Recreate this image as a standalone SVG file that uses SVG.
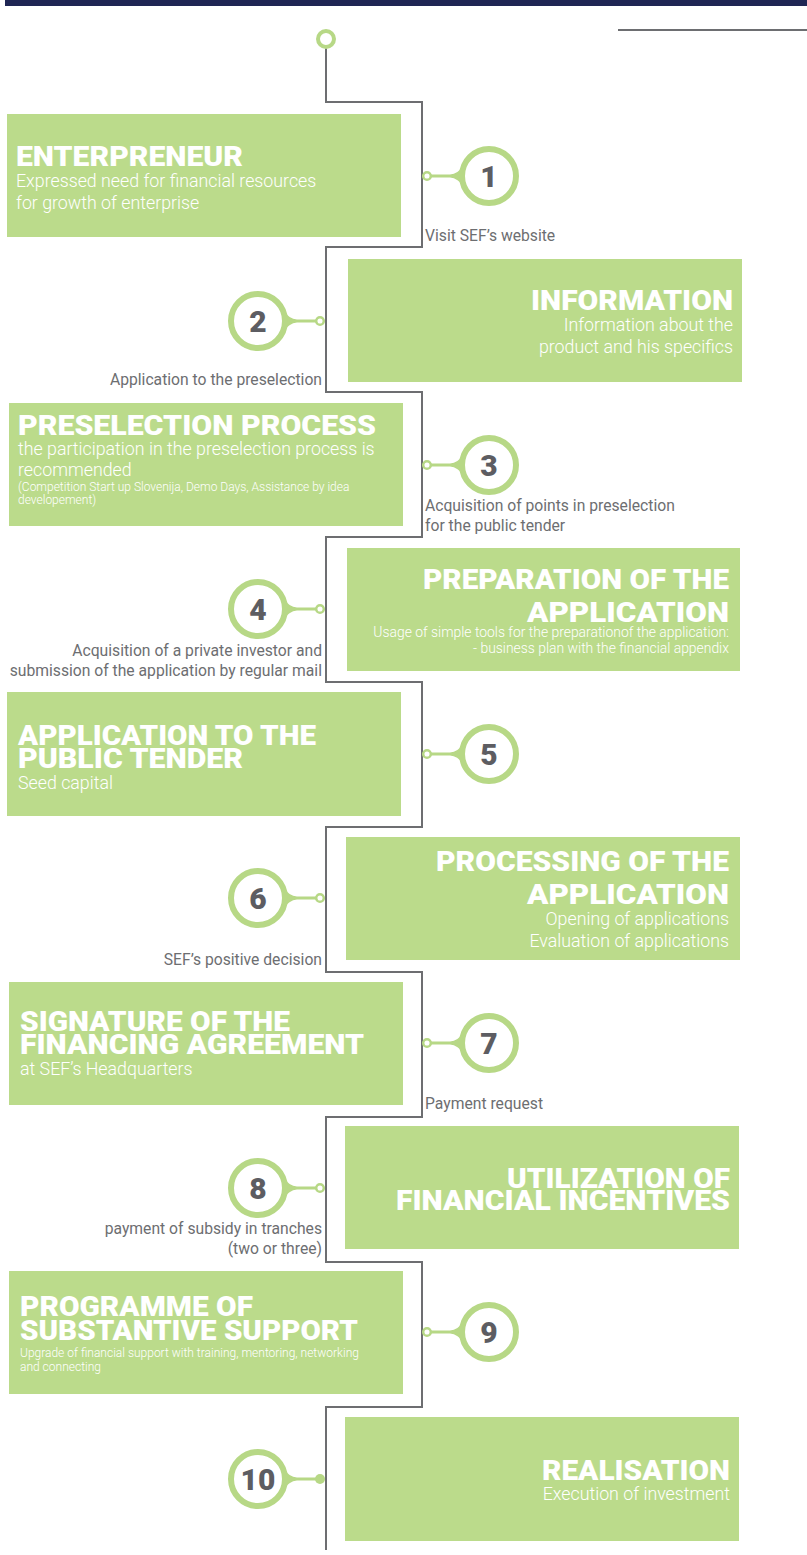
<svg xmlns="http://www.w3.org/2000/svg" xmlns:xlink="http://www.w3.org/1999/xlink" width="807" height="1555" viewBox="0 0 807 1555">
<style>
.box{fill:#bbdb8b}
.t{font-family:Roboto,"Liberation Sans",sans-serif;font-weight:900;font-size:27px;fill:#ffffff}
.s{font-family:Roboto,"Liberation Sans",sans-serif;font-weight:300;font-size:17.8px;fill:#ffffff}
.s13{font-family:Roboto,"Liberation Sans",sans-serif;font-weight:300;font-size:13.9px;fill:#ffffff}
.s11{font-family:Roboto,"Liberation Sans",sans-serif;font-weight:300;font-size:12px;fill:#ffffff}
.e{text-anchor:end}
.lbl{font-family:Roboto,"Liberation Sans",sans-serif;font-size:15.7px;fill:#6d6e71}
.num{font-family:Roboto,"Liberation Sans",sans-serif;font-weight:900;font-size:30px;fill:#5d5d62;text-anchor:middle}
.ring{fill:#ffffff;stroke:#b7d886;stroke-width:6}
.wire{fill:none;stroke:#6d6e71;stroke-width:2}
</style>
<defs>
<g id="stem">
<path d="M25,-11 Q31,-2 39,-1.5 L59,-1.5 L59,1.5 L39,1.5 Q31,2 25,11 Z" fill="#b7d886"/>
<circle cx="62" cy="0" r="3.8" fill="#ffffff" stroke="#b7d886" stroke-width="2.5"/>
</g>
<g id="stemEnd">
<path d="M25,-11 Q31,-2 39,-1.5 L59,-1.5 L59,1.5 L39,1.5 Q31,2 25,11 Z" fill="#b7d886"/>
<circle cx="62" cy="0" r="5" fill="#b7d886"/>
</g>
</defs>
<rect x="5" y="0" width="802" height="6" fill="#1f2654"/>
<line x1="618" y1="30" x2="807" y2="30" stroke="#6d6e71" stroke-width="2"/>

<g id="connectors">
<path class="wire" d="M326,48 V102 H422 V247 H326 V392 H422 V537 H326 V682 H422 V827 H326 V972 H422 V1117 H326 V1262 H422 V1407 H326 V1550"/>
<circle cx="326" cy="39" r="8" fill="#ffffff" stroke="#b7d886" stroke-width="4"/>
<use xlink:href="#stem" transform="translate(489,176) scale(-1,1)"/>
<use xlink:href="#stem" transform="translate(258,321)"/>
<use xlink:href="#stem" transform="translate(489,465) scale(-1,1)"/>
<use xlink:href="#stem" transform="translate(258,609)"/>
<use xlink:href="#stem" transform="translate(489,754) scale(-1,1)"/>
<use xlink:href="#stem" transform="translate(258,898)"/>
<use xlink:href="#stem" transform="translate(489,1043) scale(-1,1)"/>
<use xlink:href="#stem" transform="translate(258,1188)"/>
<use xlink:href="#stem" transform="translate(489,1332) scale(-1,1)"/>
<use xlink:href="#stemEnd" transform="translate(258,1479)"/>
<text class="lbl" x="425" y="241">Visit SEF’s website</text>
<text class="lbl e" x="322" y="385">Application to the preselection</text>
<text class="lbl" x="425" y="511">Acquisition of points in preselection</text>
<text class="lbl" x="425" y="531">for the public tender</text>
<text class="lbl e" x="322" y="656">Acquisition of a private investor and</text>
<text class="lbl e" x="322" y="676">submission of the application by regular mail</text>
<text class="lbl e" x="322" y="965">SEF’s positive decision</text>
<text class="lbl" x="425" y="1109">Payment request</text>
<text class="lbl e" x="322" y="1234">payment of subsidy in tranches</text>
<text class="lbl e" x="322" y="1254">(two or three)</text>
</g>

<g id="step1">
<rect class="box" x="7" y="114" width="394" height="123"/>
<text class="t" x="16" y="166" textLength="227" lengthAdjust="spacingAndGlyphs">ENTERPRENEUR</text>
<text class="s" x="16" y="187">Expressed need for financial resources</text>
<text class="s" x="16" y="209">for growth of enterprise</text>
<circle class="ring" cx="489" cy="176" r="27"/>
<text class="num" x="489" y="187">1</text>
</g>

<g id="step2">
<rect class="box" x="348" y="259" width="394" height="123"/>
<text class="t e" x="733" y="310" textLength="202" lengthAdjust="spacingAndGlyphs">INFORMATION</text>
<text class="s e" x="733" y="331">Information about the</text>
<text class="s e" x="733" y="353">product and his specifics</text>
<circle class="ring" cx="258" cy="321" r="27"/>
<text class="num" x="258" y="332">2</text>
</g>

<g id="step3">
<rect class="box" x="9" y="403" width="394" height="123"/>
<text class="t" x="18" y="435" textLength="358" lengthAdjust="spacingAndGlyphs">PRESELECTION PROCESS</text>
<text class="s" x="18" y="455">the participation in the preselection process is</text>
<text class="s" x="18" y="476">recommended</text>
<text class="s11" x="18" y="491">(Competition Start up Slovenija, Demo Days, Assistance by idea</text>
<text class="s11" x="18" y="504">developement)</text>
<circle class="ring" cx="489" cy="465" r="27"/>
<text class="num" x="489" y="476">3</text>
</g>

<g id="step4">
<rect class="box" x="347" y="548" width="393" height="123"/>
<text class="t e" x="729" y="589" textLength="306" lengthAdjust="spacingAndGlyphs">PREPARATION OF THE</text>
<text class="t e" x="729" y="622" textLength="202" lengthAdjust="spacingAndGlyphs">APPLICATION</text>
<text class="s13 e" x="729" y="637">Usage of simple tools for the preparationof the application:</text>
<text class="s13 e" x="729" y="653">- business plan with the financial appendix</text>
<circle class="ring" cx="258" cy="609" r="27"/>
<text class="num" x="258" y="620">4</text>
</g>

<g id="step5">
<rect class="box" x="7" y="692" width="394" height="124"/>
<text class="t" x="18" y="745" textLength="298" lengthAdjust="spacingAndGlyphs">APPLICATION TO THE</text>
<text class="t" x="18" y="768" textLength="225" lengthAdjust="spacingAndGlyphs">PUBLIC TENDER</text>
<text class="s" x="18" y="789">Seed capital</text>
<circle class="ring" cx="489" cy="754" r="27"/>
<text class="num" x="489" y="765">5</text>
</g>

<g id="step6">
<rect class="box" x="346" y="837" width="394" height="123"/>
<text class="t e" x="729" y="871" textLength="293" lengthAdjust="spacingAndGlyphs">PROCESSING OF THE</text>
<text class="t e" x="729" y="904" textLength="202" lengthAdjust="spacingAndGlyphs">APPLICATION</text>
<text class="s e" x="729" y="925">Opening of applications</text>
<text class="s e" x="729" y="947">Evaluation of applications</text>
<circle class="ring" cx="258" cy="898" r="27"/>
<text class="num" x="258" y="909">6</text>
</g>

<g id="step7">
<rect class="box" x="9" y="982" width="394" height="123"/>
<text class="t" x="20" y="1031" textLength="270" lengthAdjust="spacingAndGlyphs">SIGNATURE OF THE</text>
<text class="t" x="20" y="1054" textLength="344" lengthAdjust="spacingAndGlyphs">FINANCING AGREEMENT</text>
<text class="s" x="20" y="1075">at SEF’s Headquarters</text>
<circle class="ring" cx="489" cy="1043" r="27"/>
<text class="num" x="489" y="1054">7</text>
</g>

<g id="step8">
<rect class="box" x="345" y="1126" width="394" height="123"/>
<text class="t e" x="730" y="1188" textLength="223" lengthAdjust="spacingAndGlyphs">UTILIZATION OF</text>
<text class="t e" x="730" y="1210" textLength="334" lengthAdjust="spacingAndGlyphs">FINANCIAL INCENTIVES</text>
<circle class="ring" cx="258" cy="1188" r="27"/>
<text class="num" x="258" y="1199">8</text>
</g>

<g id="step9">
<rect class="box" x="9" y="1271" width="394" height="123"/>
<text class="t" x="20" y="1316" textLength="233" lengthAdjust="spacingAndGlyphs">PROGRAMME OF</text>
<text class="t" x="20" y="1340" textLength="338" lengthAdjust="spacingAndGlyphs">SUBSTANTIVE SUPPORT</text>
<text class="s11" x="20" y="1357">Upgrade of financial support with training, mentoring, networking</text>
<text class="s11" x="20" y="1371">and connecting</text>
<circle class="ring" cx="489" cy="1332" r="27"/>
<text class="num" x="489" y="1343">9</text>
</g>

<g id="step10">
<rect class="box" x="345" y="1417" width="394" height="124"/>
<text class="t e" x="730" y="1480" textLength="188" lengthAdjust="spacingAndGlyphs">REALISATION</text>
<text class="s e" x="730" y="1500">Execution of investment</text>
<circle class="ring" cx="258" cy="1479" r="27"/>
<text class="num" x="258" y="1490">10</text>
</g>
</svg>
